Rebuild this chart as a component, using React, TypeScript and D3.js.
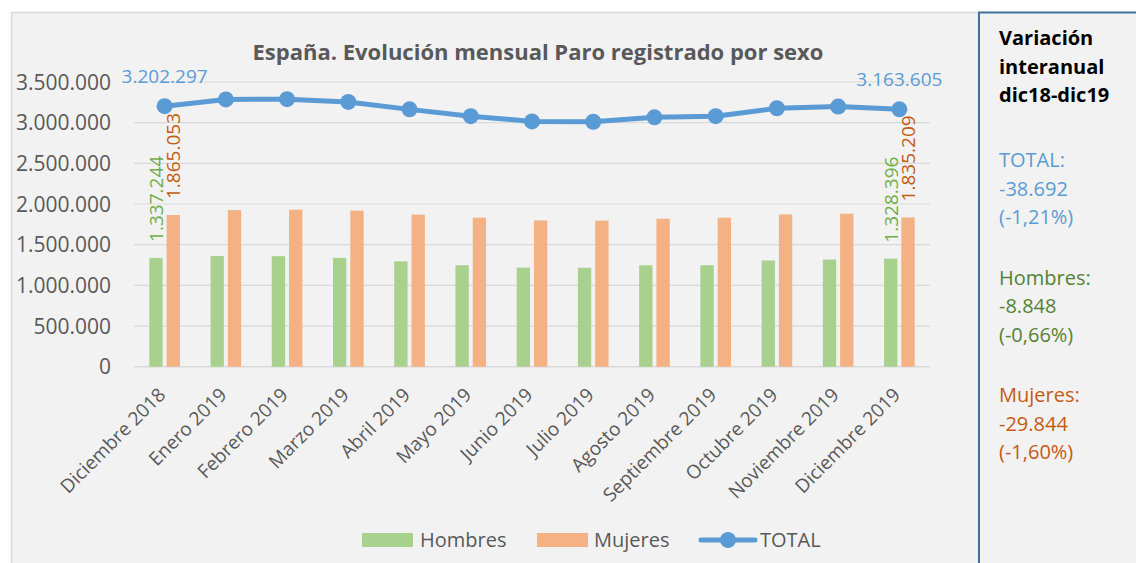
import React, { useEffect, useRef } from 'react';
import * as d3 from 'd3';

const months = ['Diciembre 2018', 'Enero 2019', 'Febrero 2019', 'Marzo 2019', 'Abril 2019', 'Mayo 2019', 'Junio 2019',
  'Julio 2019', 'Agosto 2019', 'Septiembre 2019', 'Octubre 2019', 'Noviembre 2019', 'Diciembre 2019'];
const hombres = [1337244, 1360800, 1359000, 1337100, 1294600, 1247500, 1217700, 1216400, 1246800, 1247700, 1305700, 1317200, 1328396];
const mujeres = [1865053, 1925000, 1930000, 1918000, 1869000, 1832000, 1798000, 1795000, 1819000, 1832000, 1872000, 1881000, 1835209];
const total = [3202297, 3285761, 3289040, 3255084, 3163566, 3079491, 3015686, 3011433, 3065804, 3079711, 3177659, 3198184, 3163605];
const yTicks = [0, 500000, 1000000, 1500000, 2000000, 2500000, 3000000, 3500000];
const labelled = [0, 12]; // only first and last month carry data labels

const panelHeading = ['Variación', 'interanual', 'dic18-dic19'];
const panelGroups = [
  { lines: ['TOTAL:', '-38.692', '(-1,21%)'], color: '#5b9bd5' },
  { lines: ['Hombres:', '-8.848', '(-0,66%)'], color: '#548235' },
  { lines: ['Mujeres:', '-29.844', '(-1,60%)'], color: '#c55a11' },
];

const FONT = "'Open Sans', sans-serif";
const fmt = d3.formatLocale({ decimal: ',', thousands: '.', grouping: [3], currency: ['', ''] }).format(',d');

/* ParoChart: D3 chart of monthly registered unemployment by sex, with the side panel */
function ParoChart({ width, height }) {
  const ref = useRef(null);
  useEffect(() => {
    const svg = d3.select(ref.current);
    svg.selectAll('*').remove();
    svg.attr('width', width).attr('height', height);

    // backgrounds and frames
    svg.append('rect').attr('x', 0).attr('y', 0).attr('width', width).attr('height', height).attr('fill', '#ffffff');
    svg.append('rect').attr('x', 11.5).attr('y', 12.5).attr('width', 967).attr('height', height).attr('fill', '#f2f2f2')
      .attr('stroke', '#d9d9d9').attr('stroke-width', 1.5);
    svg.append('rect').attr('x', 979).attr('y', 12.5).attr('width', 170).attr('height', height).attr('fill', '#f2f2f2')
      .attr('stroke', '#41719c').attr('stroke-width', 2);

    const x = d3.scaleBand().domain(months).range([134, 930]);
    const bw = x.bandwidth();
    const xs = d3.scaleBand().domain(['h', 'm']).range([bw * 0.25, bw * 0.75]).paddingInner(0.23);
    const y = d3.scaleLinear().domain([0, 3500000]).range([366.7, 82]);

    // gridlines
    svg.append('g').selectAll('line').data(yTicks).enter().append('line')
      .attr('x1', 134).attr('x2', 930).attr('y1', d => y(d)).attr('y2', d => y(d))
      .attr('stroke', '#d9d9d9').attr('stroke-width', d => d === 0 ? 1.5 : 1.2);

    // y tick labels
    svg.append('g').selectAll('text').data(yTicks).enter().append('text')
      .attr('x', 111).attr('y', d => y(d)).attr('dy', '0.36em').attr('text-anchor', 'end')
      .attr('font-family', FONT).attr('font-size', 21).attr('fill', '#595959').text(d => fmt(d));

    // x tick labels
    svg.append('g').selectAll('text').data(months).enter().append('text')
      .attr('transform', d => `translate(${x(d) + bw / 2 + 2},${396}) rotate(-45)`)
      .attr('text-anchor', 'end').attr('font-family', FONT).attr('font-size', 19).attr('fill', '#595959').text(d => d);

    // bars
    const bars = svg.append('g');
    bars.selectAll('rect.h').data(hombres).enter().append('rect').attr('class', 'h')
      .attr('x', (d, i) => x(months[i]) + xs('h')).attr('width', xs.bandwidth())
      .attr('y', d => y(d)).attr('height', d => y(0) - y(d)).attr('fill', '#a9d18e');
    bars.selectAll('rect.m').data(mujeres).enter().append('rect').attr('class', 'm')
      .attr('x', (d, i) => x(months[i]) + xs('m')).attr('width', xs.bandwidth())
      .attr('y', d => y(d)).attr('height', d => y(0) - y(d)).attr('fill', '#f4b183');

    // vertical data labels above the bars
    const vlabels = [
      { series: hombres, key: 'h', color: '#70ad47' },
      { series: mujeres, key: 'm', color: '#c55a11' },
    ];
    vlabels.forEach(s => {
      svg.append('g').selectAll('text').data(labelled).enter().append('text')
        .attr('transform', i => `translate(${x(months[i]) + xs(s.key) + xs.bandwidth() / 2},${y(s.series[i]) - 16}) rotate(-90)`)
        .attr('dy', '0.36em').attr('font-family', FONT).attr('font-size', 19).attr('fill', s.color)
        .text(i => fmt(s.series[i]));
    });

    // total line
    const cx = i => x(months[i]) + bw / 2;
    const line = d3.line().x((d, i) => cx(i)).y(d => y(d));
    svg.append('path').datum(total).attr('d', line).attr('fill', 'none')
      .attr('stroke', '#5b9bd5').attr('stroke-width', 5).attr('stroke-linejoin', 'round');
    svg.append('g').selectAll('circle').data(total).enter().append('circle')
      .attr('cx', (d, i) => cx(i)).attr('cy', d => y(d)).attr('r', 8).attr('fill', '#5b9bd5');
    svg.append('g').selectAll('text').data(labelled).enter().append('text')
      .attr('x', i => cx(i)).attr('y', i => y(total[i]) - 23).attr('text-anchor', 'middle')
      .attr('font-family', FONT).attr('font-size', 19).attr('fill', '#5b9bd5').text(i => fmt(total[i]));

    // title
    svg.append('text').attr('x', 538).attr('y', 60).attr('text-anchor', 'middle')
      .attr('font-family', FONT).attr('font-size', 22).attr('font-weight', 'bold').attr('fill', '#595959')
      .text('España. Evolución mensual Paro registrado por sexo');

    // legend
    const lg = svg.append('g').attr('font-family', FONT).attr('font-size', 20).attr('fill', '#595959');
    lg.append('rect').attr('x', 362).attr('y', 533).attr('width', 51).attr('height', 14).attr('fill', '#a9d18e');
    lg.append('text').attr('x', 420).attr('y', 547).text('Hombres');
    lg.append('rect').attr('x', 537).attr('y', 533).attr('width', 51).attr('height', 14).attr('fill', '#f4b183');
    lg.append('text').attr('x', 594).attr('y', 547).text('Mujeres');
    lg.append('line').attr('x1', 701).attr('x2', 755).attr('y1', 540).attr('y2', 540)
      .attr('stroke', '#5b9bd5').attr('stroke-width', 5).attr('stroke-linecap', 'round');
    lg.append('circle').attr('cx', 728).attr('cy', 540).attr('r', 8).attr('fill', '#5b9bd5');
    lg.append('text').attr('x', 760).attr('y', 547).text('TOTAL');

    // side panel
    const panel = svg.append('g').attr('font-family', FONT).attr('font-size', 20);
    panel.selectAll('text.head').data(panelHeading).enter().append('text').attr('class', 'head')
      .attr('x', 999).attr('y', (d, i) => 45 + i * 28.7).attr('font-weight', 'bold').attr('fill', '#000000').text(d => d);
    panelGroups.forEach((g, gi) => {
      panel.append('g').selectAll('text').data(g.lines).enter().append('text')
        .attr('x', 999).attr('y', (d, i) => 167 + gi * 117.5 + i * 28.7).attr('fill', g.color).text(d => d);
    });
  }, [width, height]);

  return (<svg ref={ref} style={{ position: 'absolute', left: 0, top: 0, display: 'block' }} />);
}

export default function App() {
  return (<ParoChart width={1136} height={563} />);
}
